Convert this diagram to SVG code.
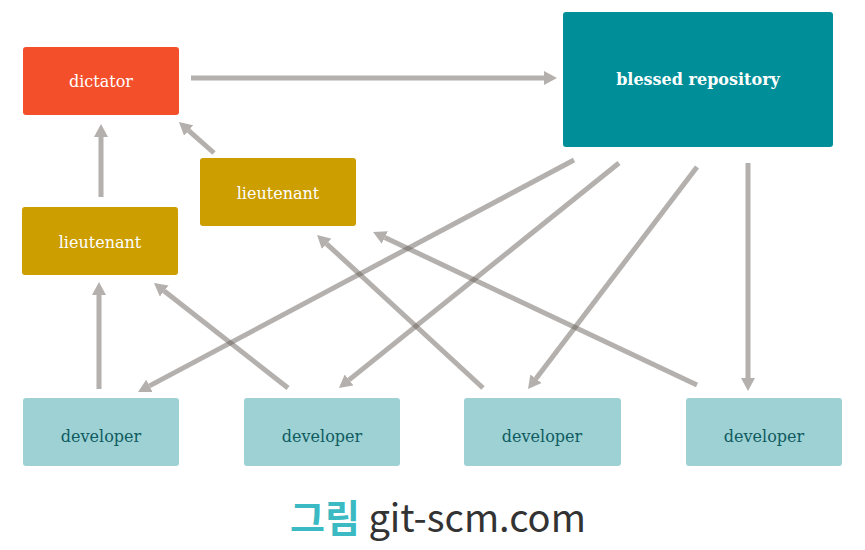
<svg xmlns="http://www.w3.org/2000/svg" width="865" height="550" viewBox="0 0 865 550">
<style>
.box{stroke:none}
.lbl{font-family:"DejaVu Serif","Liberation Serif",serif;font-size:16px;text-anchor:middle;fill:#ffffff}
.dev rect{fill:#9DD1D4}
.dev text{fill:#0F5B60}
.lt rect{fill:#CC9E00}
.conn path{fill:none;stroke:#6a625c;stroke-opacity:0.5;stroke-width:5;marker-end:url(#ah)}
</style>
<defs>
<marker id="ah" markerUnits="userSpaceOnUse" viewBox="0 0 13 14" markerWidth="13" markerHeight="14" refX="0" refY="7" orient="auto">
<path d="M0,0 L13,7 L0,14 z" fill="#6a625c" fill-opacity="0.5"/>
</marker>
</defs>
<rect width="865" height="550" fill="#ffffff"/>
<g id="dictator"><rect class="box" x="23" y="47" width="156" height="68" rx="3" fill="#F44F2B"/><text class="lbl" x="101" y="87">dictator</text></g>
<g id="blessed"><rect class="box" x="563" y="12" width="270" height="135" rx="3" fill="#008F98"/><text class="lbl" x="698" y="85" font-weight="bold">blessed repository</text></g>
<g id="lieutenant1" class="lt"><rect x="22" y="207" width="156" height="68" rx="3"/><text class="lbl" x="100" y="248">lieutenant</text></g>
<g id="lieutenant2" class="lt"><rect x="200" y="158" width="156" height="68" rx="3"/><text class="lbl" x="278" y="199">lieutenant</text></g>
<g id="developer1" class="dev"><rect x="23" y="398" width="156" height="68" rx="3"/><text class="lbl" x="101" y="442">developer</text></g>
<g id="developer2" class="dev"><rect x="244" y="398" width="156" height="68" rx="3"/><text class="lbl" x="322" y="442">developer</text></g>
<g id="developer3" class="dev"><rect x="464" y="398" width="157" height="68" rx="3"/><text class="lbl" x="542" y="442">developer</text></g>
<g id="developer4" class="dev"><rect x="686" y="398" width="156" height="68" rx="3"/><text class="lbl" x="764" y="442">developer</text></g>
<g id="connectors" class="conn">
<path d="M191,78 L544,78"/>
<path d="M101,197 L101,137"/>
<path d="M214,153 L188.7,130.6"/>
<path d="M99,389 L99,295"/>
<path d="M288,388 L164.2,291"/>
<path d="M574,160 L149.5,385.9"/>
<path d="M619,163 L349.1,379.9"/>
<path d="M697,167 L535.9,378.7"/>
<path d="M748,163 L748,378"/>
<path d="M483,388 L326.6,243.8"/>
<path d="M697,385 L384.8,237.5"/>
</g>
<text id="caption" x="290" y="532" font-family="'Noto Sans CJK KR','Noto Sans',sans-serif" font-size="38"><tspan fill="#3BBAC3" font-weight="bold">그림</tspan><tspan fill="#333333"> git-scm.com</tspan></text>
</svg>
